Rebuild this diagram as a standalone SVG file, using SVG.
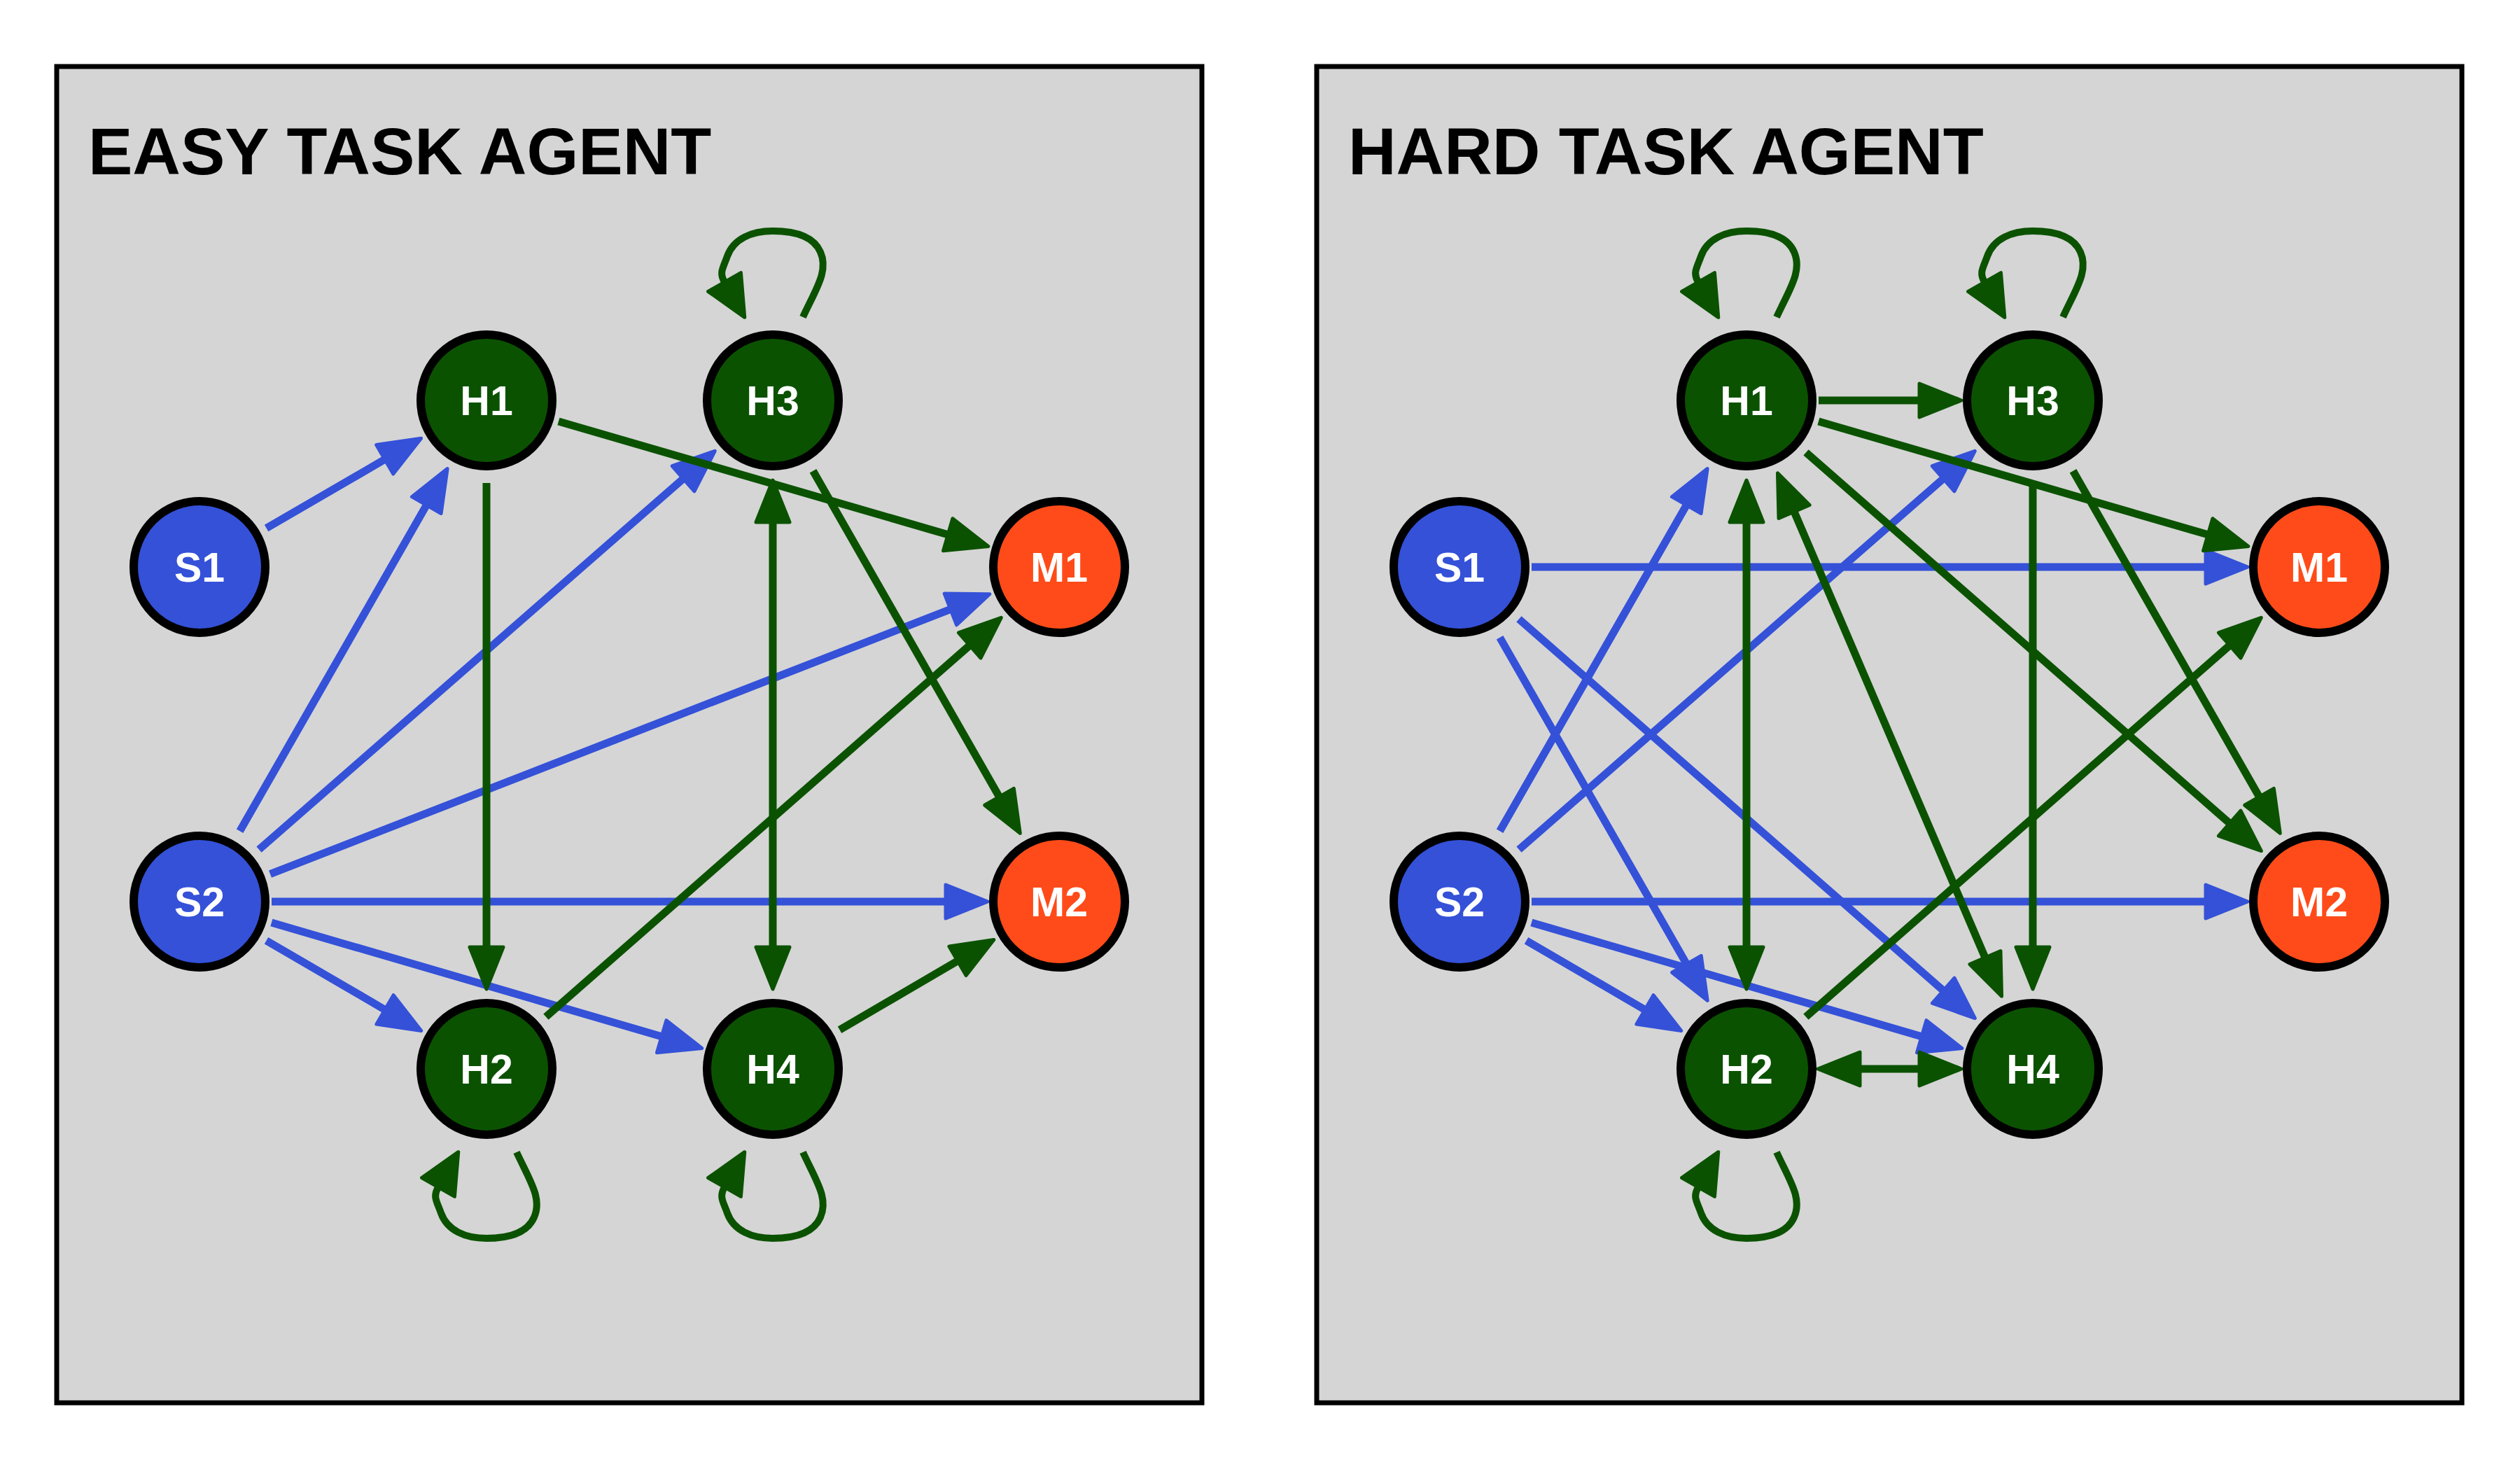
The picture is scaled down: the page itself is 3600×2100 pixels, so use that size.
<svg xmlns="http://www.w3.org/2000/svg" width="3600" height="2100" viewBox="0 0 3600 2100">
<style>
.panel{fill:#D5D5D5;stroke:#000;stroke-width:7}
.title{font-family:"Liberation Sans",Arial,sans-serif;font-weight:bold;font-size:95px;fill:#000}
.node circle{stroke:#000;stroke-width:12}
.s circle{fill:#3451D8}
.h circle{fill:#0B5200}
.m circle{fill:#FF4B19}
.node text{font-family:"Liberation Sans",Arial,sans-serif;font-weight:bold;font-size:59px;fill:#fff;text-anchor:middle}
.eb{stroke:#3451D8;stroke-width:11;fill:none;marker-end:url(#ab)}
.eg{stroke:#0B5200;stroke-width:11;fill:none;marker-end:url(#ag)}
.eg2{stroke:#0B5200;stroke-width:11;fill:none;marker-start:url(#ag);marker-end:url(#ag)}
.loop{stroke:#0B5200;stroke-width:10;fill:none;marker-end:url(#al)}
</style>
<defs>
<marker id="ab" markerUnits="userSpaceOnUse" viewBox="-10 -40 80 80" markerWidth="80" markerHeight="80" refX="0" refY="0" orient="auto-start-reverse" overflow="visible">
<path d="M0,-24 L60,0 L0,24 Z" fill="#3451D8" stroke="#3451D8" stroke-width="5" stroke-linejoin="round"/>
</marker>
<marker id="ag" markerUnits="userSpaceOnUse" viewBox="-10 -40 80 80" markerWidth="80" markerHeight="80" refX="0" refY="0" orient="auto-start-reverse" overflow="visible">
<path d="M0,-24 L60,0 L0,24 Z" fill="#0B5200" stroke="#0B5200" stroke-width="5" stroke-linejoin="round"/>
</marker>
<marker id="al" markerUnits="userSpaceOnUse" viewBox="-10 -40 80 80" markerWidth="80" markerHeight="80" refX="0" refY="0" orient="auto" overflow="visible">
<path d="M0,-27 L58,0 L0,27 Z" fill="#0B5200" stroke="#0B5200" stroke-width="5" stroke-linejoin="round"/>
</marker>
</defs>
<rect width="3600" height="2100" fill="#fff"/>
<g id="panel-easy">
<rect class="panel" x="81" y="95" width="1636" height="1909"/>
<text class="title" x="126" y="249">EASY TASK AGENT</text>
</g>
<g id="panel-hard">
<rect class="panel" x="1881" y="95" width="1636" height="1909"/>
<text class="title" x="1926" y="249">HARD TASK AGENT</text>
</g>
<g id="connectors">
<path class="eb" d="M380.6,754.5 L549.7,656.3"/>
<path class="eb" d="M342.6,1187.3 L609.3,721.6"/>
<path class="eb" d="M370,1213.7 L976.1,683.8"/>
<path class="eb" d="M386,1248.7 L1357.9,870.4"/>
<path class="eb" d="M388,1288 L1351,1288"/>
<path class="eb" d="M380.5,1343.7 L549.9,1442.4"/>
<path class="eb" d="M387.9,1318 L945.2,1480.7"/>
<path class="eg" d="M797.9,602 L1354.2,763.8"/>
<path class="eg" d="M695,690 L695,1353"/>
<path class="eg2" d="M1104,746 L1104,1353"/>
<path class="eg" d="M1161.5,672.7 L1427.5,1138.3"/>
<path class="eg" d="M779.9,1452.6 L1385.2,922"/>
<path class="eg" d="M1199.5,1471.2 L1368,1372.8"/>
<path class="loop" transform="translate(1104,572)" d="M43,-119 C62,-160 80,-185 68,-212 C57,-237 27,-242 0,-242 C-30,-242 -56,-231 -65,-206 C-71,-189 -77,-183 -69,-169"/>
<path class="loop" transform="translate(695,1527) scale(1,-1)" d="M43,-119 C62,-160 80,-185 68,-212 C57,-237 27,-242 0,-242 C-30,-242 -56,-231 -65,-206 C-71,-189 -77,-183 -69,-169"/>
<path class="loop" transform="translate(1104,1527) scale(1,-1)" d="M43,-119 C62,-160 80,-185 68,-212 C57,-237 27,-242 0,-242 C-30,-242 -56,-231 -65,-206 C-71,-189 -77,-183 -69,-169"/>

<path class="eb" d="M2188,810 L3151,810"/>
<path class="eb" d="M2142.6,910.7 L2409.4,1377.3"/>
<path class="eb" d="M2169.9,884.4 L2776.2,1415.1"/>
<path class="eb" d="M2142.6,1187.3 L2409.3,721.6"/>
<path class="eb" d="M2170,1213.7 L2776.1,683.8"/>
<path class="eb" d="M2188,1288 L3151,1288"/>
<path class="eb" d="M2180.5,1343.7 L2349.9,1442.4"/>
<path class="eb" d="M2187.9,1318 L2745.2,1480.7"/>
<path class="eg" d="M2598,572 L2742,572"/>
<path class="eg" d="M2597.9,602 L3154.2,763.8"/>
<path class="eg" d="M2580,646.4 L3185.2,1176.1"/>
<path class="eg2" d="M2495,746 L2495,1353"/>
<path class="eg2" d="M2563.1,731 L2835.9,1368"/>
<path class="eg" d="M2904,690 L2904,1353"/>
<path class="eg" d="M2961.5,672.7 L3227.5,1138.3"/>
<path class="eg" d="M2579.9,1452.6 L3185.2,922"/>
<path class="eg2" d="M2657,1527 L2742,1527"/>
<path class="loop" transform="translate(2495,572)" d="M43,-119 C62,-160 80,-185 68,-212 C57,-237 27,-242 0,-242 C-30,-242 -56,-231 -65,-206 C-71,-189 -77,-183 -69,-169"/>
<path class="loop" transform="translate(2904,572)" d="M43,-119 C62,-160 80,-185 68,-212 C57,-237 27,-242 0,-242 C-30,-242 -56,-231 -65,-206 C-71,-189 -77,-183 -69,-169"/>
<path class="loop" transform="translate(2495,1527) scale(1,-1)" d="M43,-119 C62,-160 80,-185 68,-212 C57,-237 27,-242 0,-242 C-30,-242 -56,-231 -65,-206 C-71,-189 -77,-183 -69,-169"/>
</g>
<g id="easy-S1" class="node s"><circle cx="285" cy="810" r="94"/><text x="285" y="831">S1</text></g>
<g id="easy-S2" class="node s"><circle cx="285" cy="1288" r="94"/><text x="285" y="1309">S2</text></g>
<g id="easy-H1" class="node h"><circle cx="695" cy="572" r="94"/><text x="695" y="593">H1</text></g>
<g id="easy-H3" class="node h"><circle cx="1104" cy="572" r="94"/><text x="1104" y="593">H3</text></g>
<g id="easy-H2" class="node h"><circle cx="695" cy="1527" r="94"/><text x="695" y="1548">H2</text></g>
<g id="easy-H4" class="node h"><circle cx="1104" cy="1527" r="94"/><text x="1104" y="1548">H4</text></g>
<g id="easy-M1" class="node m"><circle cx="1513" cy="810" r="94"/><text x="1513" y="831">M1</text></g>
<g id="easy-M2" class="node m"><circle cx="1513" cy="1288" r="94"/><text x="1513" y="1309">M2</text></g>
<g id="hard-S1" class="node s"><circle cx="2085" cy="810" r="94"/><text x="2085" y="831">S1</text></g>
<g id="hard-S2" class="node s"><circle cx="2085" cy="1288" r="94"/><text x="2085" y="1309">S2</text></g>
<g id="hard-H1" class="node h"><circle cx="2495" cy="572" r="94"/><text x="2495" y="593">H1</text></g>
<g id="hard-H3" class="node h"><circle cx="2904" cy="572" r="94"/><text x="2904" y="593">H3</text></g>
<g id="hard-H2" class="node h"><circle cx="2495" cy="1527" r="94"/><text x="2495" y="1548">H2</text></g>
<g id="hard-H4" class="node h"><circle cx="2904" cy="1527" r="94"/><text x="2904" y="1548">H4</text></g>
<g id="hard-M1" class="node m"><circle cx="3313" cy="810" r="94"/><text x="3313" y="831">M1</text></g>
<g id="hard-M2" class="node m"><circle cx="3313" cy="1288" r="94"/><text x="3313" y="1309">M2</text></g>
</svg>
